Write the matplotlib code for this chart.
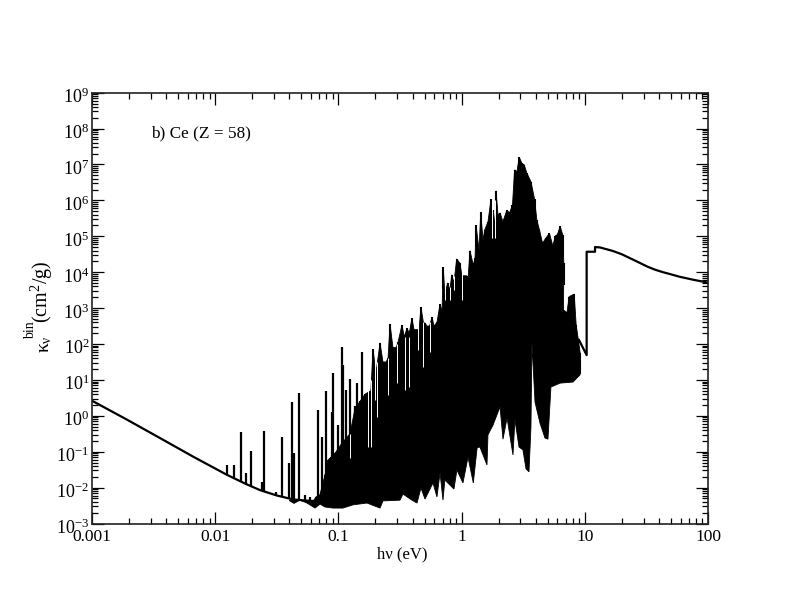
import numpy as np
import matplotlib
matplotlib.use('Agg')
import matplotlib.pyplot as plt
from matplotlib.ticker import LogLocator, NullFormatter, FixedFormatter, FixedLocator
from matplotlib.transforms import ScaledTranslation

plt.rcParams['font.family'] = ['Liberation Serif', 'DejaVu Serif']
plt.rcParams['mathtext.fontset'] = 'custom'
plt.rcParams['mathtext.rm'] = 'Liberation Serif'
plt.rcParams['mathtext.it'] = 'Liberation Serif:italic'
plt.rcParams['mathtext.default'] = 'rm'

# everything below is log10(hv) / log10(kappa)
# smooth part at low energy
low_x = [-3.0, -2.72, -2.448, -2.178, -1.907, -1.75, -1.636, -1.5, -1.366, -1.206, -1.17]
low_y = [0.42, -0.10, -0.62, -1.14, -1.64, -1.90, -2.07, -2.22, -2.33, -2.38, -2.40]

# continuum above the last lines
high_x = [0.953, 1.015, 1.015, 1.083, 1.083, 1.123, 1.229, 1.30, 1.367, 1.44, 1.505, 1.57,
          1.635, 1.70, 1.773, 1.88, 2.0]
high_y = [2.11, 1.69, 4.57, 4.57, 4.70, 4.69, 4.59, 4.50, 4.39, 4.27, 4.16, 4.07,
          4.00, 3.94, 3.87, 3.79, 3.71]

# peaks of the single lines
spike_x = [-1.907, -1.848, -1.791, -1.75, -1.709, -1.622, -1.604, -1.506, -1.458, -1.401,
           -1.377, -1.36, -1.321, -1.27, -1.23, -1.168, -1.131, -1.103, -1.054, -1.041,
           -1.003, -0.971, -0.962, -0.941, -0.908, -0.865, -0.849, -0.811, -0.784, -0.76]
spike_y = [-1.37, -1.37, -0.443, -1.59, -0.98, -1.84, -0.42, -2.11, -0.60, -1.31,
           0.376, -1.04, 0.635, -2.2, -2.26, 0.16, -0.58, 0.70, 0.11, 1.18,
           -0.26, 1.91, 1.42, 0.72, 1.02, 0.27, 0.91, 1.77, 0.30, 0.52]

# top of the black part, peaks and the shallow dips between them
top_x = [-1.198, -1.182, -1.15, -1.109, -1.084, -1.027, -0.971, -0.906, -0.865, -0.825,
         -0.784, -0.736, -0.719, -0.695, -0.662, -0.638, -0.613, -0.597, -0.581, -0.557,
         -0.53, -0.516, -0.484, -0.465, -0.443, -0.425, -0.403, -0.386, -0.362, -0.345,
         -0.33, -0.31, -0.297, -0.281, -0.26, -0.24, -0.224, -0.2, -0.175, -0.159,
         -0.149, -0.136, -0.113, -0.095, -0.08, -0.062, -0.04, -0.013, 0.003, 0.041,
         0.052, 0.068, 0.095, 0.109, 0.117, 0.142, 0.155, 0.174, 0.188, 0.214,
         0.239, 0.25, 0.258, 0.27, 0.28, 0.295, 0.313, 0.335, 0.368, 0.389,
         0.413, 0.43, 0.449, 0.468, 0.49, 0.508, 0.53, 0.563, 0.592, 0.611,
         0.632, 0.657, 0.684, 0.713, 0.741, 0.76, 0.778, 0.80, 0.822, 0.83,
         0.827, 0.855, 0.873, 0.914, 0.93, 0.948, 0.962]
top_y = [-2.35, -2.26, -2.2, -1.65, -1.23, -1.04, -0.76, -0.5, 0.2, 0.4,
         0.6, 0.7, 1.86, 1.2, 2.03, 1.50, 1.5, 1.6, 2.56, 1.9,
         1.9, 2.05, 2.53, 2.2, 2.44, 2.3, 2.72, 2.4, 2.4, 2.4,
         3.03, 2.6, 2.58, 2.5, 2.5, 2.75, 2.5, 2.6, 3.11, 2.9,
         4.14, 3.4, 3.70, 3.5, 3.93, 3.7, 4.37, 4.25, 3.9, 3.9,
         3.8, 4.60, 4.20, 4.39, 5.31, 4.62, 5.67, 4.90, 5.18, 5.40,
         6.04, 5.2, 5.73, 5.2, 6.27, 5.60, 5.65, 5.41, 5.73, 5.65,
         5.87, 6.85, 6.80, 7.20, 7.03, 6.99, 6.76, 6.52, 6.04, 5.45,
         5.18, 4.81, 4.95, 5.08, 4.73, 5.01, 5.05, 5.28, 5.03, 4.25,
         2.95, 2.87, 3.32, 3.39, 2.53, 2.11, 1.76]

# thin white gaps that cut down into the black
gap_x = [-0.906, -0.76, -0.736, -0.703, -0.687, -0.597, -0.524, -0.459, -0.427, -0.354,
         -0.314, -0.256, -0.136, -0.095, -0.062, 0.003, 0.249, 0.269]
gap_low = [-1.17, -0.87, -0.87, 0.44, -0.03, 0.59, 0.91, 0.72, 0.80, 1.83,
           1.36, 1.78, 3.23, 3.23, 3.51, 3.23, 4.95, 4.95]
gap_high = [-0.5, 1.0, 1.0, 1.5, 1.5, 1.6, 2.0, 2.2, 2.2, 2.5,
            2.6, 2.6, 3.6, 3.6, 3.9, 4.2, 6.0, 6.0]

# bottom edge of the black part
lower_x = [-1.40, -1.36, -1.312, -1.255, -1.19, -1.149, -1.109, -1.044, -0.963, -0.881,
           -0.768, -0.662, -0.638, -0.5, -0.476, -0.403, -0.362, -0.33, -0.297, -0.232,
           -0.2, -0.175, -0.151, -0.136, -0.062, -0.038, 0.011, 0.052, 0.095, 0.126,
           0.149, 0.206, 0.214, 0.255, 0.312, 0.336, 0.369, 0.417, 0.433, 0.466,
           0.498, 0.523, 0.547, 0.563, 0.571, 0.596, 0.636, 0.677, 0.701, 0.725,
           0.799, 0.904, 0.961]
lower_y = [-2.36, -2.44, -2.35, -2.43, -2.57, -2.46, -2.54, -2.57, -2.57, -2.48,
           -2.43, -2.57, -2.37, -2.35, -2.18, -2.35, -2.43, -2.01, -2.32, -1.87,
           -2.26, -1.59, -2.35, -1.79, -2.04, -1.51, -1.87, -1.15, -1.87, -0.89,
           -0.87, -1.37, -0.53, -0.26, 0.25, -0.65, -0.06, -1.09, -0.11, -0.87,
           -0.95, -1.48, -1.56, -0.31, 2.03, 0.38, -0.2, -0.62, -0.65, 0.80,
           0.91, 0.94, 1.14]

xticks = [0.001, 0.01, 0.1, 1, 10, 100]
xticklabels = ['0.001', '0.01', '0.1', '1', '10', '100']
yexp = list(range(-3, 10))


def p(a):
    return 10.0 ** np.asarray(a, dtype=float)


fig = plt.figure(figsize=(7.97, 6.16), dpi=100)
ax = fig.add_axes([92 / 797, 1 - 523.5 / 616, 616 / 797, 430.8 / 616])
ax.set_xscale('log')
ax.set_yscale('log')

ax.plot(p(low_x), p(low_y), color='black', lw=1.6)
ax.plot(p(high_x), p(high_y), color='black', lw=1.6)

# line forest: every line goes from the floor up to its peak
base = np.interp(spike_x, low_x, low_y)
ax.vlines(p(spike_x), p(base), p(spike_y), color='black', lw=1.6)

poly_x = np.concatenate([top_x, lower_x[::-1]])
poly_y = np.concatenate([top_y, lower_y[::-1]])
ax.fill(p(poly_x), p(poly_y), color='black', lw=0.6)

# thicken the peaks of the black part so they are not needle points
top_base = np.maximum(np.array(top_y) - 0.6, np.interp(top_x, lower_x, lower_y))
ax.vlines(p(top_x), p(top_base), p(top_y), color='black', lw=1.5)
ax.vlines(p(gap_x), p(gap_low), p(gap_high), color='white', lw=0.7)

ax.set_xlim(1e-3, 100)
ax.set_ylim(1e-3, 1e9)

ax.xaxis.set_major_locator(FixedLocator(xticks))
ax.xaxis.set_major_formatter(FixedFormatter(xticklabels))
ax.xaxis.set_minor_locator(LogLocator(base=10, subs=np.arange(2, 10), numticks=20))
ax.xaxis.set_minor_formatter(NullFormatter())
ax.yaxis.set_major_locator(FixedLocator([10.0 ** e for e in yexp]))
ax.yaxis.set_major_formatter(FixedFormatter(['$10^{%d}$' % e for e in yexp]))
ax.yaxis.set_minor_locator(LogLocator(base=10, subs=np.arange(2, 10), numticks=30))
ax.yaxis.set_minor_formatter(NullFormatter())

ax.tick_params(which='major', direction='in', length=8.6, width=0.9, top=True, right=True,
               labelsize=12.5, pad=4)
ax.tick_params(axis='y', which='major', labelsize=13, pad=2)
ax.tick_params(which='minor', direction='in', length=4.3, width=0.9, top=True, right=True)
for s in ax.spines.values():
    s.set_linewidth(1.2)
    s.set_color('#222222')

# the y labels sit a little below their ticks
shift = ScaledTranslation(0, -2 / 72, fig.dpi_scale_trans)
for lab in ax.get_yticklabels():
    lab.set_transform(lab.get_transform() + shift)

fig.text(151 / 797, 1 - 133 / 616, 'b) Ce (Z = 58)', fontsize=12.4, va='center', ha='left')
fig.text(402 / 797, 1 - 554 / 616, 'h\u03bd (eV)', fontsize=12, ha='center', va='center')
fig.text(45 / 797, 1 - 353 / 616, '$\\kappa_{\\nu}$', fontsize=14,
         rotation=90, ha='center', va='bottom')
fig.text(31 / 797, 1 - 339 / 616, 'bin', fontsize=10,
         rotation=90, ha='center', va='bottom')
fig.text(42 / 797, 1 - 323 / 616, '(cm$^{2}$/g)', fontsize=14.5,
         rotation=90, ha='center', va='bottom')

fig.savefig('out.png', dpi=100)
